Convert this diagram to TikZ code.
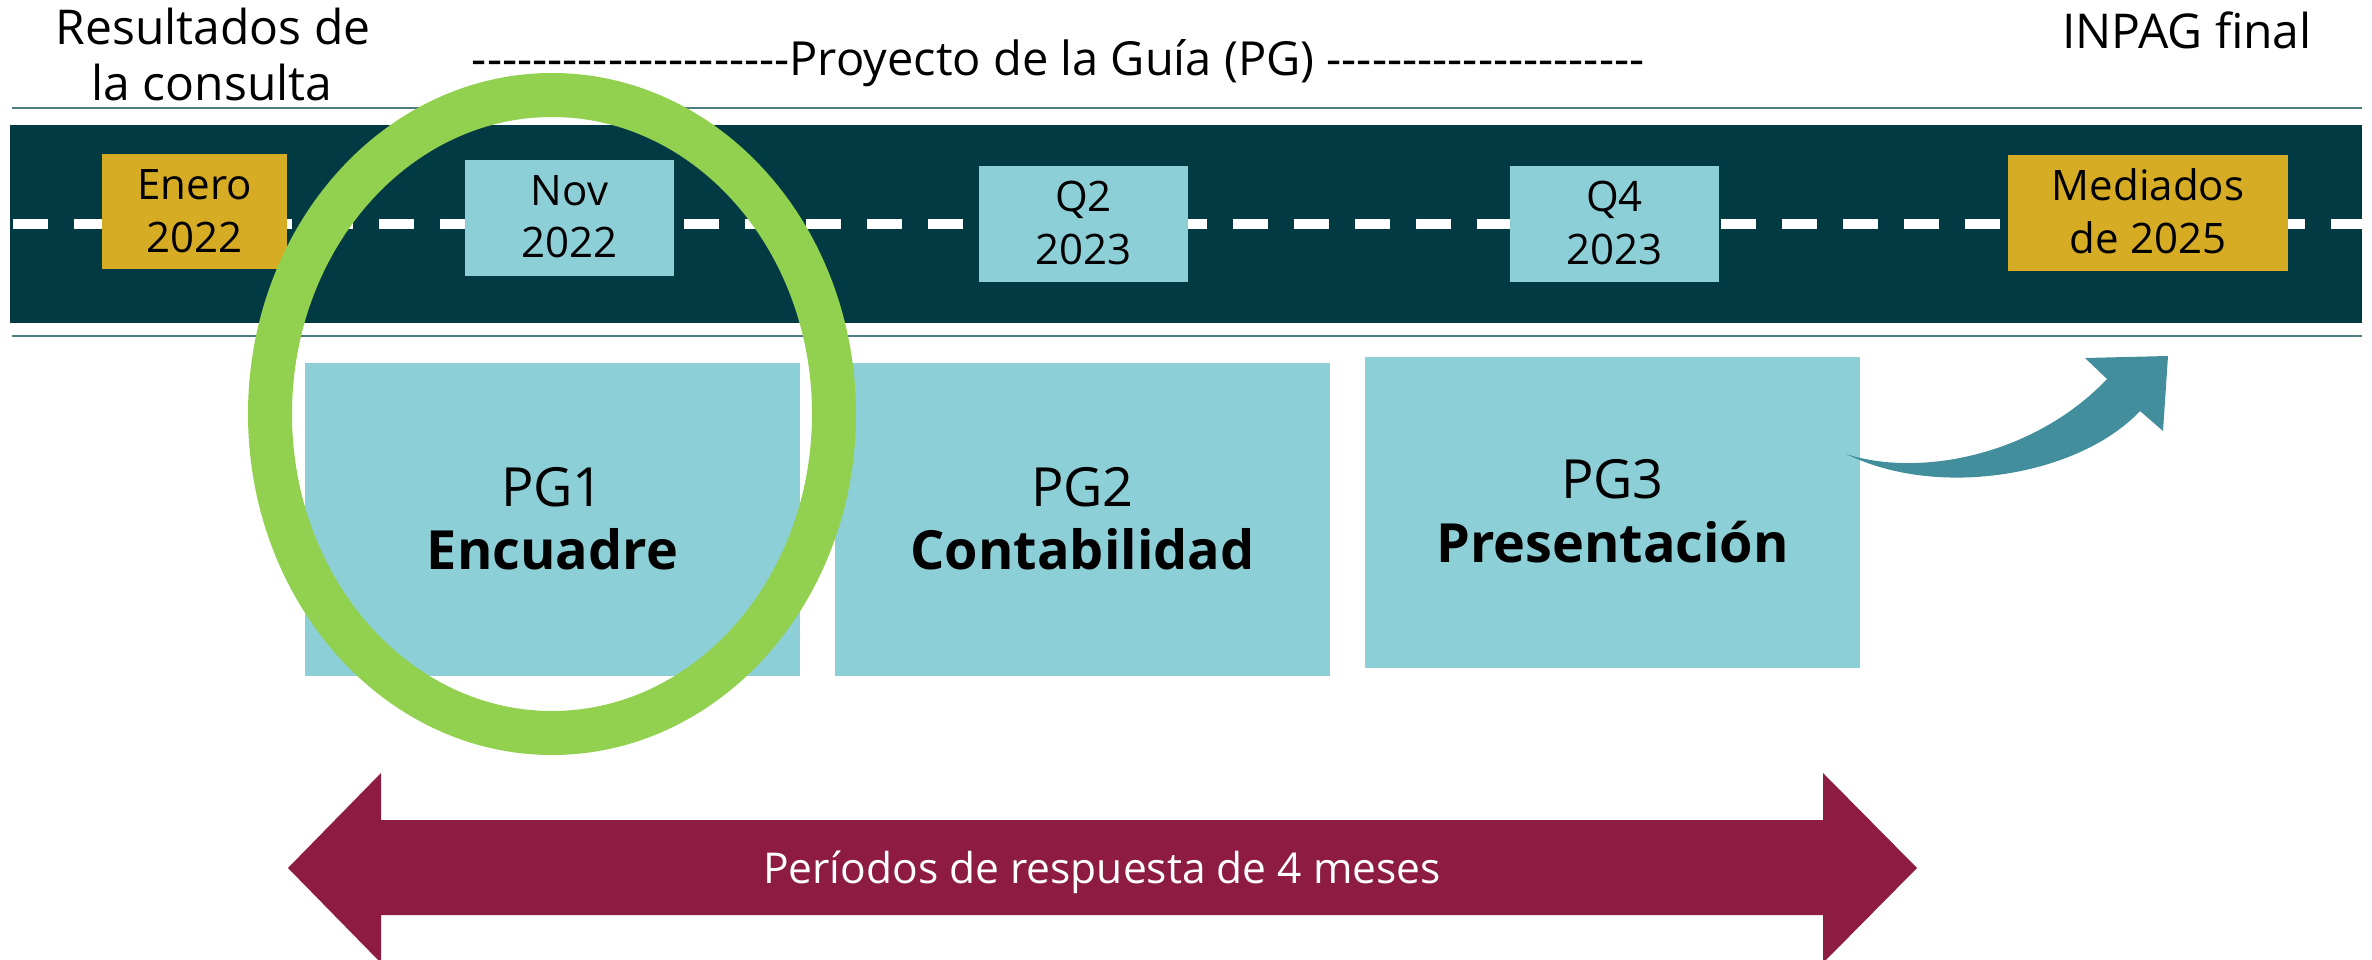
\documentclass[tikz,border=0pt]{standalone}
\usepackage{fontspec}
\setmainfont{Open Sans}
\newfontfamily\hyfont{Open Sans}
\definecolor{bandc}{RGB}{2,58,68}
\definecolor{linec}{RGB}{78,124,130}
\definecolor{tealbox}{RGB}{141,207,215}
\definecolor{goldbox}{RGB}{214,172,36}
\definecolor{ringc}{RGB}{146,208,80}
\definecolor{burg}{RGB}{142,27,65}
\definecolor{arrowc}{RGB}{66,142,156}
\tikzset{
  txt/.style={inner sep=0pt, anchor=base},
  small/.style={txt, font=\fontsize{42}{50}\selectfont},
  head/.style={txt, font=\fontsize{48}{56}\selectfont},
  pgnum/.style={txt, font=\fontsize{54}{63}\selectfont},
  pgname/.style={txt, font=\fontsize{54}{63}\selectfont\bfseries},
  datebox/.style={rectangle, inner sep=0pt, anchor=north west, draw=none},
  pgbox/.style={rectangle, inner sep=0pt, anchor=north west, draw=none, fill=tealbox},
}
\begin{document}
\begin{tikzpicture}[x=1pt, y=-1pt]
\useasboundingbox (0,0) rectangle (2372,960);
% top labels
\node[head] (res1) at (213,45) {Resultados de};
\node[head] (res2) at (212,101) {la consulta};
\node[head, font=\fontsize{47}{56}\hyfont] (proj) at (1058,76) {---------------------Proyecto de la Guía (PG) ---------------------};
\node[head] (inpag) at (2187,49) {INPAG final};
% road
\draw[linec, line width=2.5pt] (12,108) -- (2362,108);
\draw[linec, line width=2.5pt] (12,336) -- (2362,336);
\fill[bandc] (10,125) rectangle (2362,323);
\draw[white, line width=10pt, dash pattern=on 35pt off 26pt] (13,224) -- (2362,224);
% date boxes
\node[datebox, fill=goldbox, minimum width=185pt, minimum height=115pt] (enero) at (102,154) {};
\node[small] (enero1) at (194.5,200) {Enero};
\node[small] (enero2) at (194.5,252) {2022};
\node[datebox, fill=tealbox, minimum width=209pt, minimum height=116pt] (nov) at (465,160) {};
\node[small] (nov1) at (569.5,206) {Nov};
\node[small] (nov2) at (569.5,258) {2022};
\node[datebox, fill=tealbox, minimum width=209pt, minimum height=116pt] (q2) at (979,166) {};
\node[small] (q21) at (1083.5,212) {Q2};
\node[small] (q22) at (1083.5,264) {2023};
\node[datebox, fill=tealbox, minimum width=209pt, minimum height=116pt] (q4) at (1510,166) {};
\node[small] (q41) at (1614.5,212) {Q4};
\node[small] (q42) at (1614.5,264) {2023};
\node[datebox, fill=goldbox, minimum width=280pt, minimum height=116pt] (med) at (2008,155) {};
\node[small] (med1) at (2148,201) {Mediados};
\node[small] (med2) at (2148,253) {de 2025};
% PG boxes
\node[pgbox, minimum width=495pt, minimum height=313pt] (pg1) at (305,363) {};
\node[pgnum] (pg1a) at (552.5,506) {PG1};
\node[pgname] (pg1b) at (552.5,569) {Encuadre};
\node[pgbox, minimum width=495pt, minimum height=313pt] (pg2) at (835,363) {};
\node[pgnum] (pg2a) at (1082.5,506) {PG2};
\node[pgname] (pg2b) at (1082.5,569) {Contabilidad};
\node[pgbox, minimum width=495pt, minimum height=311pt] (pg3) at (1365,357) {};
\node[pgnum] (pg3a) at (1612.5,498) {PG3};
\node[pgname] (pg3b) at (1612.5,562) {Presentación};
% curved arrow out of PG3
\coordinate (tail) at (1846,454);
\fill[arrowc] (tail) .. controls (1920,478) and (2035,455) .. (2107,379)
  -- (2085,358) -- (2168,356) -- (2163,431) -- (2140,411)
  .. controls (2080,475) and (1940,500) .. (tail) -- cycle;
% highlight ring
\draw[ringc, line width=44pt] (552,414) ellipse [x radius=282pt, y radius=319pt];
% double arrow
\fill[burg] (288,868) -- (381,773) -- (381,820) -- (1823,820) -- (1823,773) -- (1917,868)
  -- (1823,963) -- (1823,915) -- (381,915) -- (381,963) -- cycle;
\node[txt, text=white, font=\fontsize{42.5}{50}\selectfont] (per) at (1102,883) {Períodos de respuesta de 4 meses};
\end{tikzpicture}
\end{document}
